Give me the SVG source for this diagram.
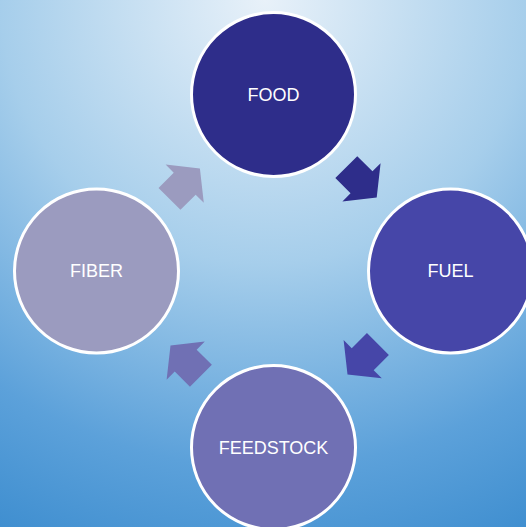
<svg xmlns="http://www.w3.org/2000/svg" width="526" height="527" viewBox="0 0 526 527">
  <defs>
    <radialGradient id="bg" gradientUnits="userSpaceOnUse" cx="265" cy="0" r="600">
      <stop offset="0" stop-color="#E8F1F9"/>
      <stop offset="0.44" stop-color="#A6CEEB"/>
      <stop offset="0.78" stop-color="#5CA1DA"/>
      <stop offset="1" stop-color="#3D8DCF"/>
    </radialGradient>
    <polygon id="arr" points="-21.5,-15.5 0,-15.5 0,-27 21.5,0 0,27 0,15.5 -21.5,15.5"/>
  </defs>
  <style>
    .node circle { stroke: #FFFFFF; stroke-width: 3; }
    .node text { font-family: "Liberation Sans", Arial, sans-serif; font-size: 18px; fill: #FFFFFF; text-anchor: middle; }
  </style>
  <rect x="0" y="0" width="526" height="527" fill="url(#bg)"/>
  <g id="connectors">
    <use href="#arr" fill="#2E2D8A" transform="translate(361.5,182.3) rotate(45)"/>
    <use href="#arr" fill="#4646A8" transform="translate(362.7,359.2) rotate(135)"/>
    <use href="#arr" fill="#7070B4" transform="translate(185.7,360.6) rotate(225)"/>
    <use href="#arr" fill="#9B9BBF" transform="translate(184.7,183.7) rotate(-45)"/>
  </g>
  <g id="food" class="node">
    <circle cx="273.5" cy="94.5" r="82" fill="#2E2D8A"/>
    <text x="273.5" y="100.5">FOOD</text>
  </g>
  <g id="fuel" class="node">
    <circle cx="450.5" cy="271" r="82" fill="#4646A8"/>
    <text x="450.5" y="277">FUEL</text>
  </g>
  <g id="feedstock" class="node">
    <circle cx="273.5" cy="447.5" r="82" fill="#7070B4"/>
    <text x="273.5" y="454">FEEDSTOCK</text>
  </g>
  <g id="fiber" class="node">
    <circle cx="96.5" cy="271" r="82" fill="#9B9BBF"/>
    <text x="96.5" y="277">FIBER</text>
  </g>
</svg>
